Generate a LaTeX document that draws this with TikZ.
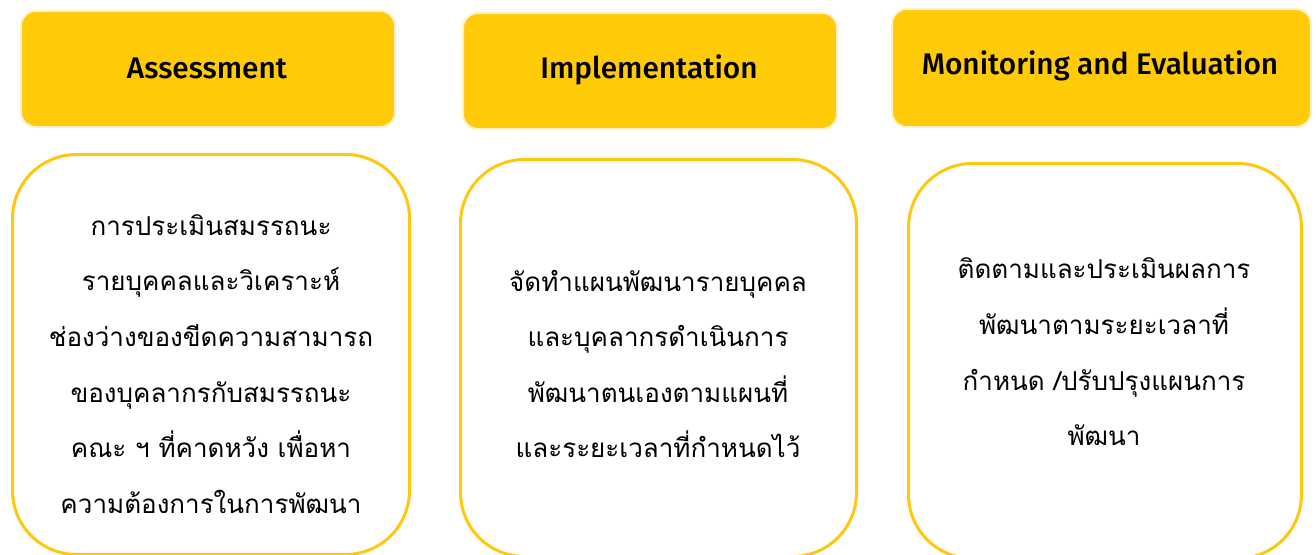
\documentclass[tikz,border=0pt]{standalone}
\usepackage{fontspec}
\setmainfont{Loma}[Script=Thai]
\newfontfamily\thaifont[Script=Thai]{Loma}
\newfontfamily\headfont{Fira Sans}[UprightFont=* Medium]

\definecolor{goldfill}{RGB}{255,202,8}
\definecolor{goldline}{RGB}{255,199,14}
\definecolor{paleedge}{RGB}{255,240,200}

\tikzset{
  headbox/.style={rounded corners=15pt, fill=goldfill, draw=paleedge,
    line width=2pt, inner sep=0pt, outer sep=0pt},
  bodybox/.style={rounded corners=64pt, fill=white, draw=goldline,
    line width=3pt, inner sep=0pt, outer sep=0pt},
  headtext/.style={font=\headfont\fontsize{29.8}{34}\selectfont, text=black},
  bodytext/.style={font=\thaifont\fontsize{26}{55.6}\selectfont, align=center, text=black}
}

\begin{document}
\begin{tikzpicture}[x=1pt, y=-1pt]
  \useasboundingbox (0,0) rectangle (1316,554);
  \clip (0,0) rectangle (1316,554);

  % header boxes
  \node[headbox, minimum width=374pt, minimum height=116pt] (hA) at (208,69) {};
  \node[headbox, minimum width=374pt, minimum height=116pt] (hB) at (650,71) {};
  \node[headbox, minimum width=419pt, minimum height=118pt] (hC) at (1101.5,68) {};

  \node[headtext] (tA) at (207,68) {Assessment};
  \node[headtext] (tB) at (649,70) {Implementation};
  \node[headtext] (tC) at (1100,66) {Monitoring and Evaluation};

  % body boxes, running off the lower edge
  \node[bodybox, minimum width=397pt, minimum height=400pt] (bA) at (211,354.5) {};
  \node[bodybox, minimum width=396pt, minimum height=397pt] (bB) at (658.5,358) {};
  \node[bodybox, minimum width=393pt, minimum height=395pt] (bC) at (1105,361) {};

  \node[bodytext] (xA) at (211,364) {การประเมินสมรรถนะ\\รายบุคคลและวิเคราะห์\\ช่องว่างของขีดความสามารถ\\ของบุคลากรกับสมรรถนะ\\คณะ ฯ ที่คาดหวัง เพื่อหา\\ความต้องการในการพัฒนา};
  \node[bodytext] (xB) at (658,364) {จัดทำแผนพัฒนารายบุคคล\\และบุคลากรดำเนินการ\\พัฒนาตนเองตามแผนที่\\และระยะเวลาที่กำหนดไว้};
  \node[bodytext] (xC) at (1104,352) {ติดตามและประเมินผลการ\\พัฒนาตามระยะเวลาที่\\กำหนด /ปรับปรุงแผนการ\\พัฒนา};
\end{tikzpicture}
\end{document}
